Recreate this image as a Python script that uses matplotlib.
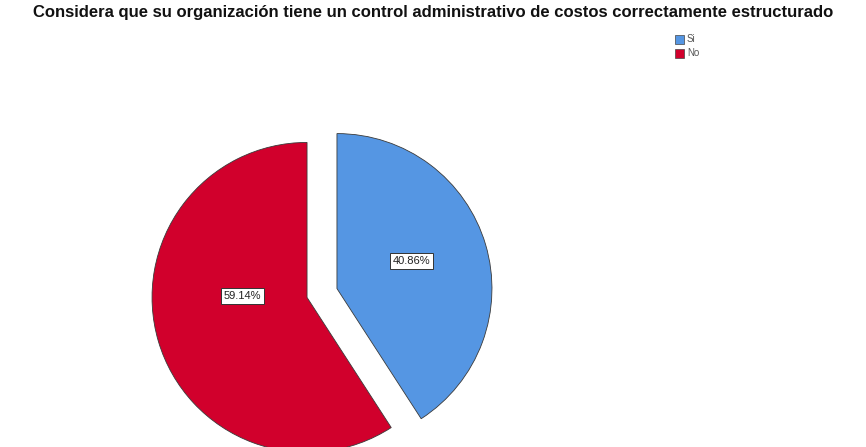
import math
import matplotlib
matplotlib.use("Agg")
import matplotlib.pyplot as plt
from matplotlib.patches import Rectangle

# Survey answers and their shares (%)
categories = ["Si", "No"]
shares = [40.86, 59.14]
colors = ["#5596e3", "#d1002c"]
title = "Considera que su organización tiene un control administrativo de costos correctamente estructurado"

W, H = 866, 447
fig = plt.figure(figsize=(W / 100, H / 100), dpi=100)
ax = fig.add_axes([0, 0, 1, 1])
ax.set_xlim(0, W)
ax.set_ylim(0, H)
ax.set_aspect("equal")
ax.axis("off")

radius = 155
center = (322, H - 293)
offset = 15.6

wedges, _ = ax.pie(
    shares,
    colors=colors,
    startangle=90,
    counterclock=False,
    radius=radius,
    center=center,
    explode=[offset, offset],
    wedgeprops=dict(edgecolor="#3a3a3a", linewidth=0.6),
    frame=True,
)
ax.set_xlim(0, W)
ax.set_ylim(0, H)
ax.axis("off")

# Percentage labels inside each slice
label_shift = [(-3, 5), (13, 24)]
for w, val, (dx, dy) in zip(wedges, shares, label_shift):
    cx, cy = w.center
    th = math.radians((w.theta1 + w.theta2) / 2)
    lx = cx + 0.52 * radius * math.cos(th) + dx
    ly = cy + 0.52 * radius * math.sin(th) + dy
    ax.text(lx, ly, f"{val:.2f}%", ha="center", va="center",
            fontsize=8, family="Liberation Sans", color="#222222",
            bbox=dict(boxstyle="square,pad=0.25", fc="white", ec="#333333", lw=0.7))

fig.text(0.5, 1 - 12 / H, title, ha="center", va="center",
         fontsize=12, fontweight="bold", family="Liberation Sans", color="#111111")

# Legend
for i, (cat, col) in enumerate(zip(categories, colors)):
    y = H - 44 - i * 14
    ax.add_patch(Rectangle((675, y), 9, 9, fc=col, ec="#444444", lw=0.5))
    ax.text(687, y + 4.5, cat, ha="left", va="center", fontsize=7,
            family="Liberation Sans", color="#555555")

fig.savefig("out.png", dpi=100, facecolor="white")
